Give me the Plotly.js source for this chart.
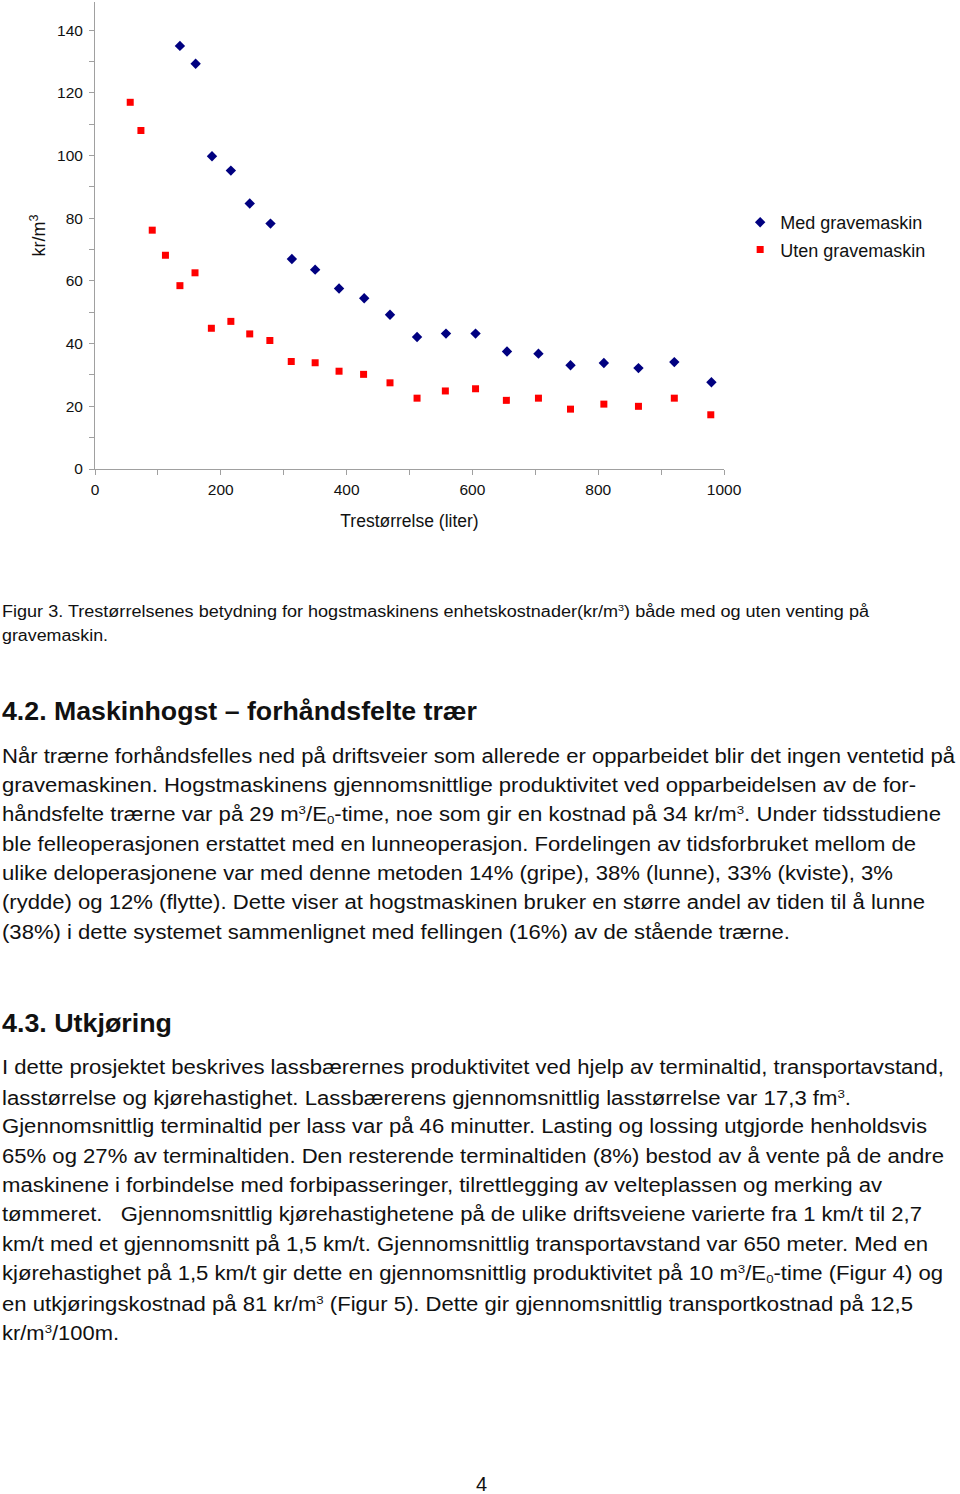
<!DOCTYPE html>
<html>
<head>
<meta charset="utf-8">
<script src="https://cdn.plot.ly/plotly-3.0.1.min.js"></script>
<style>
  html, body { margin:0; padding:0; background:#fff; width:960px; height:1494px; overflow:hidden; }
  body { position:relative; font-family:"Liberation Sans", Arial, Helvetica, sans-serif; color:#111; }
  #chart { position:absolute; left:0; top:0; width:960px; height:545px; }
  .ln { position:absolute; left:2px; white-space:nowrap; transform-origin:0 50%; line-height:1; }
  .cap { font-size:16px; }
  .body { font-size:19.5px; }
  .h { font-size:26px; font-weight:bold; }
  sup { font-size:0.6em; vertical-align:0.6em; line-height:1; }
  sub { font-size:0.6em; vertical-align:-0.25em; line-height:1; }
</style>
</head>
<body>
<div id="chart"></div>
<div id="text"></div>
<script>
// ---- data ----
const sizeMed = [135, 160, 186, 216, 246, 279, 313, 350, 388, 428, 469, 512, 558, 605, 655, 705, 756, 809, 864, 921, 980];
const costMed = [135.0, 129.3, 99.8, 95.2, 84.7, 78.3, 67.0, 63.6, 57.6, 54.5, 49.2, 42.1, 43.2, 43.2, 37.5, 36.8, 33.1, 33.8, 32.2, 34.1, 27.7];
const sizeUten = [56, 73, 91, 112, 135, 159, 185, 216, 246, 278, 312, 350, 388, 427, 469, 512, 557, 605, 654, 705, 756, 809, 864, 921, 979];
const costUten = [117.0, 108.0, 76.2, 68.2, 58.5, 62.6, 44.9, 47.1, 43.1, 41.0, 34.3, 33.9, 31.2, 30.2, 27.5, 22.6, 24.9, 25.6, 21.9, 22.6, 19.1, 20.7, 20.0, 22.6, 17.3];
const seriesNames = ["Med gravemaskin", "Uten gravemaskin"];
const xTitle = "Trestørrelse (liter)";
const yTitle = "kr/m<sup>3</sup>";

const FONT = "Liberation Sans, Arial, sans-serif";
const traces = [
  { x: sizeMed, y: costMed, name: seriesNames[0], type: "scatter", mode: "markers", legendgroup: "a",
    marker: { symbol: "diamond", color: "#000080", size: 8 } },
  { x: sizeUten, y: costUten, name: seriesNames[1], type: "scatter", mode: "markers", legendgroup: "b",
    marker: { symbol: "square", color: "#ff0000", size: 7 } }
];
const axisCommon = { showline: true, linecolor: "#a0a0a0", linewidth: 1, showgrid: false, zeroline: false,
  ticks: "outside", ticklen: 5, tickcolor: "#a0a0a0", tickfont: { family: FONT, size: 15.5, color: "#111" } };
const layout = {
  width: 960, height: 545,
  margin: { l: 95, r: 236, t: 2, b: 76 },
  paper_bgcolor: "#fff", plot_bgcolor: "#fff",
  font: { family: FONT, color: "#111" },
  showlegend: true,
  legend: { xref: "container", yref: "container", x: 0.771, y: 0.567, xanchor: "left", yanchor: "middle",
    font: { family: FONT, size: 18, color: "#111" }, traceorder: "grouped", tracegroupgap: 1, bgcolor: "rgba(0,0,0,0)" },
  xaxis: Object.assign({}, axisCommon, { range: [0, 1000], dtick: 200, tick0: 0,
    minor: { dtick: 100, ticks: "outside", ticklen: 5, tickcolor: "#a0a0a0" },
    ticklabelstandoff: 1,
    title: { text: xTitle, font: { family: FONT, size: 17.5, color: "#111" }, standoff: 18 } }),
  yaxis: Object.assign({}, axisCommon, { range: [0, 149], dtick: 20, tick0: 0,
    minor: { dtick: 10, ticks: "outside", ticklen: 5, tickcolor: "#a0a0a0" },
    ticklabelstandoff: 3,
    title: { text: yTitle, font: { family: FONT, size: 18, color: "#111" }, standoff: 6 } })
};
Plotly.newPlot("chart", traces, layout, { displayModeBar: false, staticPlot: true });

// ---- text below chart: [class, center y, target right edge, html] ----
const lines = [
  ["cap", 611, 869, "Figur 3. Trestørrelsenes betydning for hogstmaskinens enhetskostnader(kr/m<sup>3</sup>) både med og uten venting på"],
  ["cap", 636, 108, "gravemaskin."],
  ["h", 711, 477, "4.2. Maskinhogst – forhåndsfelte trær"],
  ["body", 757, 955, "Når trærne forhåndsfelles ned på driftsveier som allerede er opparbeidet blir det ingen ventetid på"],
  ["body", 786, 916, "gravemaskinen. Hogstmaskinens gjennomsnittlige produktivitet ved opparbeidelsen av de for-"],
  ["body", 815, 941, "håndsfelte trærne var på 29 m<sup>3</sup>/E<sub>0</sub>-time, noe som gir en kostnad på 34 kr/m<sup>3</sup>. Under tidsstudiene"],
  ["body", 845, 916, "ble felleoperasjonen erstattet med en lunneoperasjon. Fordelingen av tidsforbruket mellom de"],
  ["body", 874, 893, "ulike deloperasjonene var med denne metoden 14% (gripe), 38% (lunne), 33% (kviste), 3%"],
  ["body", 903, 925, "(rydde) og 12% (flytte). Dette viser at hogstmaskinen bruker en større andel av tiden til å lunne"],
  ["body", 933, 790, "(38%) i dette systemet sammenlignet med fellingen (16%) av de stående trærne."],
  ["h", 1023, 172, "4.3. Utkjøring"],
  ["body", 1068, 944, "I dette prosjektet beskrives lassbærernes produktivitet ved hjelp av terminaltid, transportavstand,"],
  ["body", 1098, 851, "lasstørrelse og kjørehastighet. Lassbærerens gjennomsnittlig lasstørrelse var 17,3 fm<sup>3</sup>."],
  ["body", 1127, 927, "Gjennomsnittlig terminaltid per lass var på 46 minutter. Lasting og lossing utgjorde henholdsvis"],
  ["body", 1157, 944, "65% og 27% av terminaltiden. Den resterende terminaltiden (8%) bestod av å vente på de andre"],
  ["body", 1186, 882, "maskinene i forbindelse med forbipasseringer, tilrettlegging av velteplassen og merking av"],
  ["body", 1215, 922, "tømmeret.&nbsp;&nbsp; Gjennomsnittlig kjørehastighetene på de ulike driftsveiene varierte fra 1 km/t til 2,7"],
  ["body", 1245, 928, "km/t med et gjennomsnitt på 1,5 km/t. Gjennomsnittlig transportavstand var 650 meter. Med en"],
  ["body", 1274, 943, "kjørehastighet på 1,5 km/t gir dette en gjennomsnittlig produktivitet på 10 m<sup>3</sup>/E<sub>0</sub>-time (Figur 4) og"],
  ["body", 1304, 913, "en utkjøringskostnad på 81 kr/m<sup>3</sup> (Figur 5). Dette gir gjennomsnittlig transportkostnad på 12,5"],
  ["body", 1333, 119, "kr/m<sup>3</sup>/100m."]
];
const host = document.getElementById("text");
lines.forEach(([cls, cy, right, html]) => {
  const d = document.createElement("div");
  d.className = "ln " + cls;
  d.innerHTML = html;
  host.appendChild(d);
  const r = d.getBoundingClientRect();
  d.style.top = (cy - r.height / 2) + "px";
  const target = right - 2;
  d.style.transform = "scaleX(" + (target / r.width) + ")";
});
const pg = document.createElement("div");
pg.className = "ln body";
pg.style.left = "476px";
pg.style.fontSize = "20px";
pg.textContent = "4";
host.appendChild(pg);
pg.style.top = (1484 - pg.getBoundingClientRect().height / 2) + "px";
</script>
</body>
</html>
